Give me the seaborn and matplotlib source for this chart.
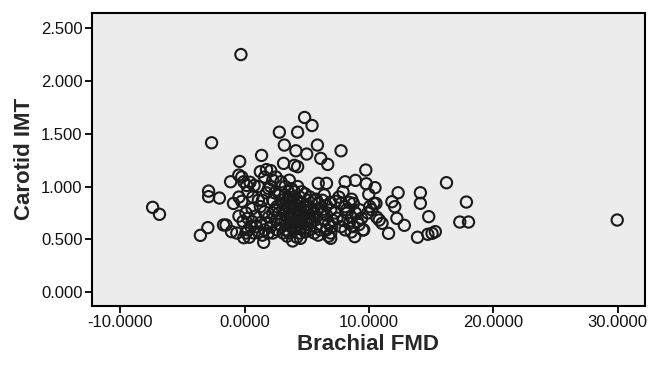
import matplotlib
matplotlib.use("Agg")
import matplotlib.pyplot as plt
import seaborn as sns
import pandas as pd
from matplotlib.ticker import FormatStrFormatter

# Brachial FMD (x) and Carotid IMT (y)
fmd = [
    -0.3, -7.4, -6.85, -3.56, -2.96, -2.66, -2.9, -2.9, -2.03, -1.7, -1.5, -1.06, -1.13, -0.9,
    -0.4, -0.47, -0.23, 2.79, 4.26, 4.82, 5.42, 3.19, 4.12, 4.99, 5.85, 6.12, 6.68, 7.75,
    1.36, 3.13, 4.0, 4.26, 9.74, 8.91, 8.08, 5.92, 6.58, 9.78, 10.48, 9.98, 12.34, 16.23,
    14.13, 14.13, 17.83, 14.8, 17.3, 18.0, 13.9, 14.73, 15.07, 15.33, 29.96, 12.84, 11.57,
    12.24, 11.84, 12.07, 10.56, 10.82, 11.05, 8.85, 9.5, 6.92, 3.86, 1.53, -0.07,
    -0.07, 0.17, 0.43, 0.76, 1.1, 0.27, 0.66, 1.1, 0.6, 0.1, 0.27, 0.6, 0.93, 0.27, 0.76,
    0.1, 0.37, 1.1, 1.43, 1.6, 1.76, 1.93, 1.6, 1.26, 1.43, 1.76, 1.93, 1.26, 1.76, 2.1,
    1.6, 2.26, 2.52, 2.09, 2.42, 2.26, 2.6, 2.26, 2.52, 2.09, 2.26, 2.6,
    2.92, 3.26, 3.59, 3.76, 4.26, 4.59, 3.26, 3.59, 3.92, 4.26, 3.09, 3.42, 3.76, 4.09,
    4.42, 4.76, 5.09, 5.25, 3.26, 3.59, 3.92, 4.26, 4.59, 4.92, 5.25, 5.59, 2.92, 3.26,
    3.59, 3.99, 4.32, 4.76, 5.09, 5.42, 5.75, 3.26, 3.59, 3.99, 4.42, 4.86, 5.25, 5.59,
    6.08, 4.19, 4.49,
    5.59, 5.92, 6.25, 6.58, 6.92, 5.92, 6.25, 6.58, 6.92, 7.25, 6.42, 6.75, 7.08, 7.42,
    6.58, 6.92, 6.75, 5.92,
    7.58, 7.91, 7.75, 8.08, 8.41, 8.74, 8.24, 8.57, 8.91, 9.24, 7.91, 8.41, 8.74, 9.07,
    9.4, 8.08, 8.57, 9.57, 9.9, 10.06, 10.22, 10.39, 10.62, 7.75,
    -0.46, -0.23, -0.46, -0.13, -0.63,
    3.42, 3.76, 4.09, 4.42, 4.76, 5.09, 3.59, 3.92, 4.26, 4.59, 4.92, 5.42, 3.09, 3.42,
    3.76, 4.19, 4.52, 4.92, 5.25, 5.75, 5.75, 4.86, 3.99, 3.52, 4.42, 2.92, 2.76, 2.86,
    3.09, 3.42, 0.5, 0.9, 1.3, 1.9, 2.4, 2.8, 5.0, 5.3, 6.4, 7.0, 7.3, 8.2, 8.6, 9.2,
]
imt = [
    2.248, 0.803, 0.737, 0.538, 0.611, 1.414, 0.957, 0.904, 0.891, 0.636, 0.636, 0.573, 1.045, 0.84,
    1.237, 1.108, 1.09, 1.514, 1.514, 1.653, 1.577, 1.392, 1.338, 1.307, 1.392, 1.266, 1.209, 1.338,
    1.294, 1.219, 1.2, 1.187, 1.156, 1.058, 1.045, 1.03, 1.03, 1.026, 0.989, 0.926, 0.941, 1.036,
    0.941, 0.841, 0.853, 0.715, 0.664, 0.664, 0.52, 0.548, 0.557, 0.573, 0.683, 0.633, 0.557,
    0.699, 0.856, 0.809, 0.84, 0.683, 0.652, 0.526, 0.589, 0.51, 0.485, 0.472, 0.516,
    1.045, 1.01, 1.04, 1.01, 1.0, 0.95, 0.9, 0.87, 0.79, 0.75, 0.70, 0.67, 0.62, 0.59, 0.56,
    0.56, 0.52, 0.57, 0.54, 0.59, 0.65, 0.71, 0.76, 0.81, 0.87, 0.94, 0.98, 1.14, 1.16, 1.15,
    1.09, 1.06, 1.09, 1.0, 0.94, 0.87, 0.81, 0.75, 0.68, 0.62, 0.56, 0.59,
    1.045, 1.0, 1.06, 0.98, 1.0, 0.95, 0.92, 0.89, 0.90, 0.87, 0.84, 0.81, 0.82, 0.79,
    0.84, 0.81, 0.87, 0.90, 0.76, 0.73, 0.75, 0.71, 0.75, 0.76, 0.71, 0.75, 0.70, 0.67,
    0.65, 0.67, 0.64, 0.67, 0.64, 0.67, 0.62, 0.59, 0.56, 0.59, 0.56, 0.57, 0.59, 0.56,
    0.59, 0.52, 0.51,
    0.87, 0.84, 0.87, 0.82, 0.85, 0.79, 0.76, 0.73, 0.78, 0.75, 0.68, 0.65, 0.68, 0.70,
    0.59, 0.56, 0.53, 0.54,
    0.90, 0.95, 0.84, 0.81, 0.85, 0.84, 0.75, 0.71, 0.75, 0.78, 0.68, 0.65, 0.62, 0.67,
    0.70, 0.59, 0.57, 0.59, 0.75, 0.81, 0.78, 0.84, 0.71, 0.62,
    0.90, 0.86, 0.72, 0.67, 0.56,
    0.87, 0.85, 0.83, 0.78, 0.73, 0.70, 0.79, 0.70, 0.76, 0.70, 0.82, 0.79, 0.79, 0.71,
    0.62, 0.61, 0.60, 0.61, 0.78, 0.71, 0.88, 0.93, 0.95, 0.95, 0.90, 0.87, 0.75, 0.64,
    0.56, 0.53, 0.62, 0.72, 0.66, 0.56, 0.78, 0.92, 0.80, 0.66, 0.92, 0.62, 0.86, 0.78, 0.88, 0.64,
]

x_ticks = [-10, 0, 10, 20, 30]
y_ticks = [0.0, 0.5, 1.0, 1.5, 2.0, 2.5]

df = pd.DataFrame({"Brachial FMD": fmd, "Carotid IMT": imt})

sns.set_style("white")
plt.rcParams["font.family"] = ["Liberation Sans", "DejaVu Sans"]

fig = plt.figure(figsize=(6.48, 3.66), dpi=100)
ax = fig.add_axes([0.1415, 0.164, 0.854, 0.801])
ax.set_facecolor("#ececec")

sns.scatterplot(data=df, x="Brachial FMD", y="Carotid IMT", ax=ax,
                marker="o", s=66, facecolors="none", edgecolor="#1a1a1a",
                linewidth=1.5, legend=False)

ax.set_xlim(-12.3, 32.2)
ax.set_ylim(-0.13, 2.643)
ax.set_xticks(x_ticks)
ax.set_yticks(y_ticks)
ax.xaxis.set_major_formatter(FormatStrFormatter("%.4f"))
ax.yaxis.set_major_formatter(FormatStrFormatter("%.3f"))
ax.tick_params(axis="both", direction="out", length=5, width=1.3, color="black",
               labelsize=12, labelcolor="#111111", pad=1.5, bottom=True, left=True)

for sp in ax.spines.values():
    sp.set_visible(True)
    sp.set_color("black")
    sp.set_linewidth(1.5)

ax.set_xlabel("Brachial FMD", fontsize=16, fontweight="bold", labelpad=3)
ax.set_ylabel("Carotid IMT", fontsize=16, fontweight="bold", labelpad=4)

fig.savefig("out.png", dpi=100)
